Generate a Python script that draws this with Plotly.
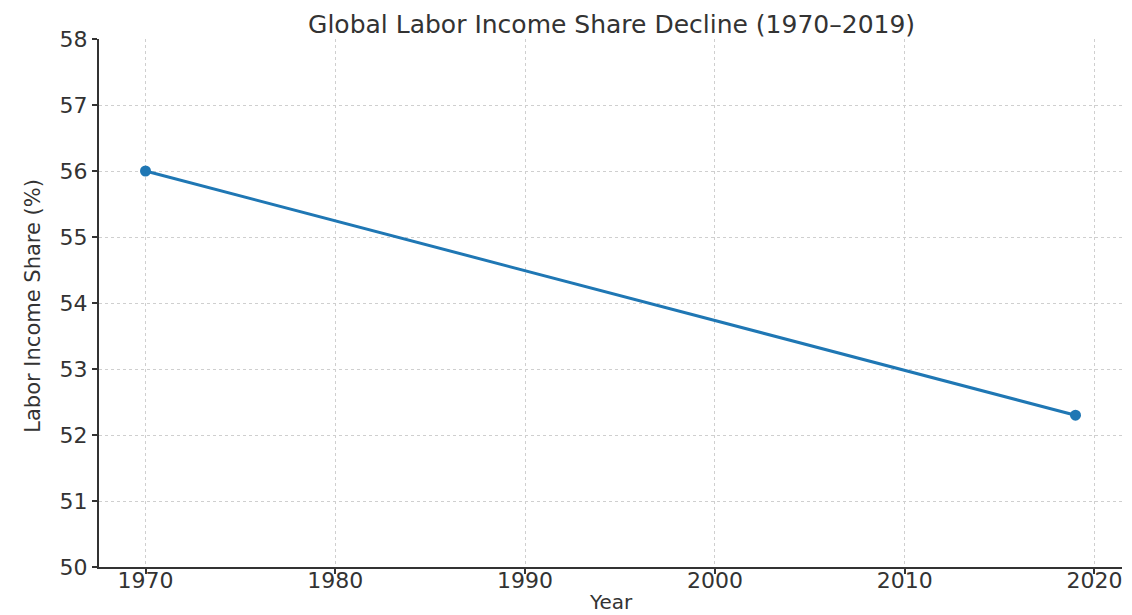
import plotly.graph_objects as go

years = [1970, 2019]
share = [56.0, 52.3]
x_ticks = [1970, 1980, 1990, 2000, 2010, 2020]
y_ticks = [50, 51, 52, 53, 54, 55, 56, 57, 58]

# The page body adds an 8px margin, so the figure is sized/offset to compensate.
fig = go.Figure()
fig.add_trace(go.Scatter(
    x=years, y=share, mode="lines+markers",
    line=dict(color="#1f77b4", width=3),
    marker=dict(color="#1f77b4", size=11),
    showlegend=False, cliponaxis=False,
))

axis_common = dict(
    showline=True, linecolor="#333333", linewidth=2,
    ticks="outside", ticklen=5, tickwidth=1.5, tickcolor="#333333",
    showgrid=True, gridcolor="#cfcfcf", griddash="3px,3px", gridwidth=1,
    zeroline=False, mirror=False, automargin=False,
    tickfont=dict(family="DejaVu Sans", size=22, color="#333333"),
)

fig.update_layout(
    width=1124, height=607,
    paper_bgcolor="white", plot_bgcolor="white",
    margin=dict(l=91, r=10, t=31, b=48),
    title=dict(text="Global Labor Income Share Decline (1970–2019)",
               x=0.537, xanchor="center", y=0.973, yanchor="middle",
               font=dict(family="DejaVu Sans", size=25, color="#333333")),
    xaxis=dict(range=[1967.55, 2021.45], tickvals=x_ticks,
               ticklabelstandoff=-12, **axis_common),
    yaxis=dict(range=[50, 58], tickvals=y_ticks, **axis_common),
    annotations=[
        dict(text="Year", xref="paper", yref="paper", x=0.5, y=-0.066,
             xanchor="center", yanchor="middle", showarrow=False,
             font=dict(family="DejaVu Sans", size=20, color="#333333")),
        dict(text="Labor Income Share (%)", xref="paper", yref="paper",
             x=-0.064, y=0.494, xanchor="center", yanchor="middle",
             textangle=-90, showarrow=False,
             font=dict(family="DejaVu Sans", size=21, color="#333333")),
    ],
)

fig.write_html("out.html")
